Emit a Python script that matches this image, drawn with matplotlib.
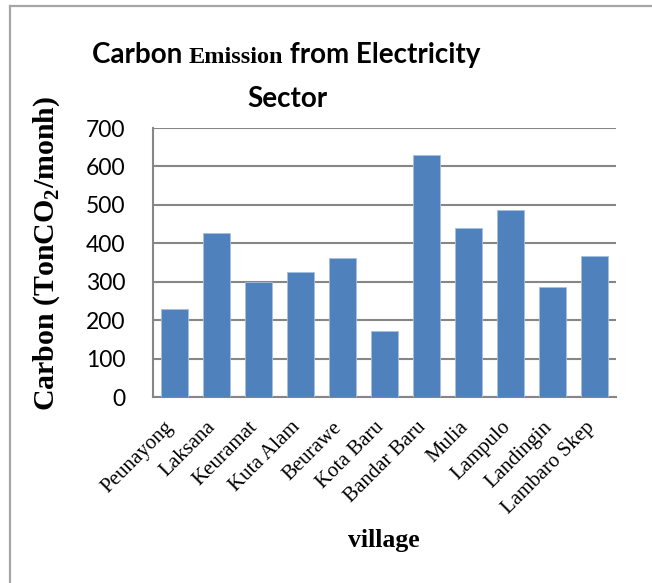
import matplotlib
matplotlib.use("Agg")
import matplotlib.pyplot as plt
import matplotlib.transforms as mtransforms
from matplotlib.lines import Line2D

# ── data ─────────────────────────────────────────────
villages = ["Peunayong", "Laksana", "Keuramat", "Kuta Alam", "Beurawe",
            "Kota Baru", "Bandar Baru", "Mulia", "Lampulo", "Landingin",
            "Lambaro Skep"]
carbon = [228, 426, 298, 326, 362, 172, 629, 439, 487, 286, 367]
yticks = [0, 100, 200, 300, 400, 500, 600, 700]

BAR_COLOR = "#4F81BD"
GRID_COLOR = "#868686"
SANS = "Lato"
SERIF = "Liberation Serif"

W, H, DPI = 652, 583, 100
fig = plt.figure(figsize=(W / DPI, H / DPI), dpi=DPI)
fig.patch.set_facecolor("white")

# frame of the chart area (only left/top visible in the crop)
fig.add_artist(Line2D([9.5 / W, 9.5 / W], [0, 1 - 6 / H], transform=fig.transFigure,
                      color="#a6a6a6", lw=1.6))
fig.add_artist(Line2D([9.5 / W, 1], [1 - 6 / H, 1 - 6 / H], transform=fig.transFigure,
                      color="#a6a6a6", lw=1.6))

ax = fig.add_axes([153 / W, 1 - 397 / H, (616 - 153) / W, (397 - 128) / H])
x = range(len(villages))
ax.bar(x, carbon, width=0.64, color=BAR_COLOR, edgecolor="#a7c0de", linewidth=0.6, zorder=3)

ax.set_xlim(-0.5, len(villages) - 0.5)
ax.set_ylim(0, 700)
ax.set_yticks(yticks)
ax.set_yticklabels([str(v) for v in yticks], fontfamily=SANS, fontsize=16.5)
ax.yaxis.grid(True, color=GRID_COLOR, linewidth=1.5, zorder=0)
ax.set_xticks(list(x))
ax.set_xticklabels(villages, rotation=45, ha="right", va="top", rotation_mode="anchor",
                   fontfamily=SERIF, fontsize=15)
ax.tick_params(axis="y", length=0, pad=20)
ax.tick_params(axis="x", length=0, pad=15)
# nudge rotated labels so their upper-right end sits just right of the bar centre
shift = mtransforms.ScaledTranslation(-10 / DPI, 0, fig.dpi_scale_trans)
for lab in ax.get_xticklabels():
    lab.set_transform(lab.get_transform() + shift)

for side in ["top", "right"]:
    ax.spines[side].set_visible(False)
for side in ["left", "bottom"]:
    ax.spines[side].set_color(GRID_COLOR)
    ax.spines[side].set_linewidth(1.5)

ax.set_ylabel("Carbon (TonCO$_\\mathregular{2}$/monh)", fontfamily=SERIF,
              fontweight="bold", fontsize=21.5)
ax.yaxis.set_label_coords(-(153 - 62) / (616 - 153), 0.535)
fig.text(384 / W, 1 - 547 / H, "village", fontfamily=SERIF, fontweight="bold",
         fontsize=18.5, ha="center", va="baseline")

# ── title with mixed fonts ──────────────────────────
renderer = fig.canvas.get_renderer()
pieces = [("Carbon ", SANS, 20), ("Emission", SERIF, 17.5), (" from Electricity", SANS, 20)]
texts = []
for s, fam, fs in pieces:
    t = fig.text(0, 1 - 63 / H, s, fontfamily=fam, fontweight="bold", fontsize=fs,
                 ha="left", va="baseline")
    texts.append(t)
widths = [t.get_window_extent(renderer).width for t in texts]
x0 = 286 - sum(widths) / 2
for t, w in zip(texts, widths):
    t.set_x(x0 / W)
    x0 += w
fig.text(287 / W, 1 - 107 / H, "Sector", fontfamily=SANS, fontweight="bold",
         fontsize=20, ha="center", va="baseline")

fig.savefig("out.png", dpi=DPI, facecolor="white")
